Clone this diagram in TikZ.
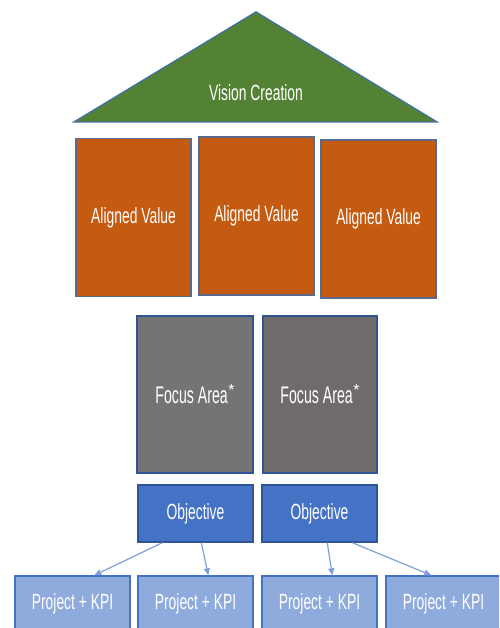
\documentclass[tikz,border=0pt]{standalone}
\usepackage{fontspec}
\setmainfont{Liberation Sans}
\newfontfamily\narrowsans[FakeStretch=0.63]{Liberation Sans}
\newfontfamily\focussans[FakeStretch=0.59]{Liberation Sans}
\usetikzlibrary{arrows.meta,calc}

\definecolor{roofgreen}{HTML}{548235}
\definecolor{valueorange}{HTML}{C55A11}
\definecolor{focusgrayA}{HTML}{747474}
\definecolor{focusgrayB}{HTML}{6F6B6A}
\definecolor{objblue}{HTML}{4472C4}
\definecolor{projblue}{HTML}{8FAADC}
\definecolor{edgeblue}{HTML}{41719C}
\definecolor{darkedge}{HTML}{2F5597}
\definecolor{arrowblue}{HTML}{7F9FD8}
\definecolor{valueedge}{HTML}{5B6A8C}

% raised footnote-style asterisk after a label
\newcommand{\starmark}{\hspace{0.5pt}\raisebox{8pt}{\rmfamily\fontsize{16}{16}\selectfont *}}

\tikzset{
  boxbase/.style={draw, line width=1.4pt, inner sep=0pt, text=white,
    font=\narrowsans\fontsize{22}{26}\selectfont},
  valuebox/.style={boxbase, fill=valueorange, draw=valueedge,
    minimum width=115pt, minimum height=158pt},
  focusbox/.style={boxbase, draw=darkedge, minimum height=157pt,
    font=\focussans\fontsize{24}{28}\selectfont},
  objbox/.style={boxbase, fill=objblue, draw=darkedge,
    minimum width=115pt, minimum height=57pt},
  projbox/.style={boxbase, fill=projblue, draw=objblue,
    minimum width=115pt, minimum height=56pt},
  link/.style={draw=arrowblue, line width=1.2pt,
    -{Triangle[length=7pt,width=6pt]}},
}

\begin{document}
\begin{tikzpicture}[x=1pt,y=-1pt]
  \useasboundingbox (0,0) rectangle (499,628);
  \clip (0,0) rectangle (499,628);

  % roof
  \coordinate (apex) at (256,12);
  \coordinate (eaveL) at (74,122);
  \coordinate (eaveR) at (437,122);
  \fill[roofgreen] (apex) -- (eaveR) -- (eaveL) -- cycle;
  \draw[edgeblue, line width=1.4pt, line join=miter] (apex) -- (eaveR) -- (eaveL) -- cycle;
  \node[boxbase, draw=none] (vision) at (256,93) {Vision Creation};

  % pillars
  \node[valuebox] (av1) at (133.5,217.5) {Aligned Value};
  \node[valuebox] (av2) at (256.5,216) {Aligned Value};
  \node[valuebox] (av3) at (378.5,219) {Aligned Value};

  % focus areas
  \node[focusbox, fill=focusgrayA, minimum width=116pt] (fa1) at (195,394.5) {Focus Area\starmark};
  \node[focusbox, fill=focusgrayB, minimum width=114pt] (fa2) at (320,394.5) {Focus Area\starmark};

  % objectives
  \node[objbox] (ob1) at (195.5,513.5) {Objective};
  \node[objbox] (ob2) at (319.5,513.5) {Objective};

  % projects
  \node[projbox] (p1) at (72.5,604) {Project + KPI};
  \node[projbox] (p2) at (195.5,604) {Project + KPI};
  \node[projbox] (p3) at (319.5,604) {Project + KPI};
  \node[projbox] (p4) at (443.5,604) {Project + KPI};

  % links
  \draw[link] ([xshift=25pt]ob1.south west) -- ([xshift=80pt]p1.north west);
  \draw[link] ([xshift=64pt]ob1.south west) -- ([xshift=71pt]p2.north west);
  \draw[link] ([xshift=66pt]ob2.south west) -- ([xshift=71pt]p3.north west);
  \draw[link] ([xshift=91pt]ob2.south west) -- ([xshift=46pt]p4.north west);
\end{tikzpicture}
\end{document}
